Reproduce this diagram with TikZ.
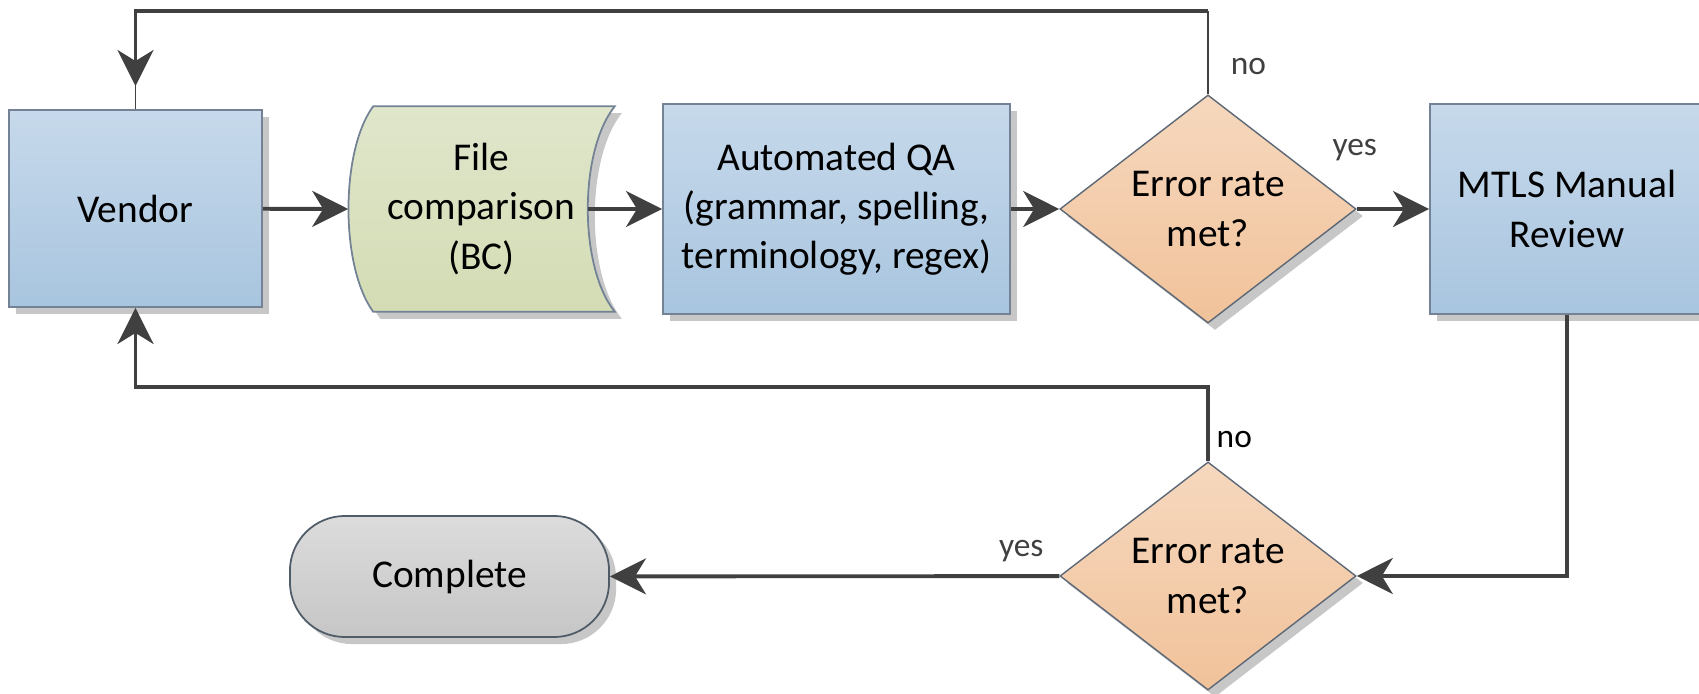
\documentclass[tikz,border=0pt]{standalone}
\usepackage{fontspec}
\setmainfont{Carlito}
\usetikzlibrary{arrows.meta,positioning,shapes.geometric,shadows,calc}
\definecolor{qaBlueTop}{RGB}{199,217,235}
\definecolor{qaBlueBot}{RGB}{168,197,223}
\definecolor{qaGreenTop}{RGB}{224,230,203}
\definecolor{qaGreenBot}{RGB}{211,220,180}
\definecolor{qaOrangeTop}{RGB}{246,216,190}
\definecolor{qaOrangeBot}{RGB}{241,194,154}
\definecolor{qaGrayTop}{RGB}{220,220,220}
\definecolor{qaGrayBot}{RGB}{198,198,198}
\definecolor{qaEdge}{RGB}{115,130,148}
\definecolor{qaLine}{RGB}{64,64,64}

\begin{document}
\begin{tikzpicture}[x=0.01cm, y=-0.01cm,
    shade/.style={drop shadow={shadow xshift=0.07cm, shadow yshift=-0.07cm,
                  opacity=0.22, fill=black}},
    proc/.style={rectangle, draw=qaEdge, line width=0.5pt, shade,
                 top color=qaBlueTop, bottom color=qaBlueBot,
                 minimum height=2.1cm, align=center,
                 font=\fontsize{11.2}{14}\selectfont},
    check/.style={diamond, draw=qaEdge!80!black, line width=0.4pt, shade,
                  top color=qaOrangeTop, bottom color=qaOrangeBot,
                  minimum width=2.96cm, minimum height=2.28cm, inner sep=0pt,
                  aspect=1.3, align=center, font=\fontsize{11.2}{14}\selectfont},
    term/.style={rectangle, rounded corners=0.55cm, draw=qaEdge!70!black,
                 line width=0.5pt, shade, top color=qaGrayTop, bottom color=qaGrayBot,
                 minimum width=3.19cm, minimum height=1.21cm,
                 font=\fontsize{11.2}{14}\selectfont},
    lbl/.style={font=\fontsize{9.5}{11}\selectfont, inner sep=0pt},
    arr/.style={-{Stealth[length=0.36cm, width=0.36cm, inset=0.11cm]}, qaLine, line width=1.1pt},
    thinln/.style={qaLine, line width=0.5pt}
  ]
  \useasboundingbox (0,0) rectangle (1699,694);

  \node[proc, minimum width=2.53cm, minimum height=1.97cm] (vendor) at (135.5,208.5) {Vendor};
  \node[minimum width=2.65cm, minimum height=2.04cm, inner sep=0pt] (fc) at (481.5,209) {};
  \node[proc, minimum width=3.47cm] (aqa) at (836.5,209)
    {Automated QA\\(grammar, spelling,\\terminology, regex)};
  \node[check] (chk1) at (1208,209) {Error rate\\met?};
  \node[proc, minimum width=2.74cm] (mtls) at (1567,209) {MTLS Manual\\Review};
  \node[check] (chk2) at (1208,576) {Error rate\\met?};
  \node[term] (done) at (449.5,576.5) {Complete};

  % file comparison shape (stored data)
  \draw[draw=qaEdge, line width=0.5pt, shade, top color=qaGreenTop, bottom color=qaGreenBot]
    ($(fc.north west)+(25,0)$) -- (fc.north east)
    .. controls ($(fc.north east)+(-36,45)$) and ($(fc.south east)+(-36,-45)$) .. (fc.south east)
    -- ($(fc.south west)+(25,0)$)
    .. controls ($(fc.south west)+(-8,-45)$) and ($(fc.north west)+(-8,45)$) .. cycle;
  \node[align=center, font=\fontsize{11.2}{14}\selectfont] at (fc) {File\\comparison\\(BC)};
  \coordinate (fcout) at ($(fc.east)+(-27,0)$);
  \coordinate (topy) at (0,11);
  \coordinate (midy) at (0,387);

  \draw[arr] (vendor) -- (fc.west);
  \draw[arr] (fcout) -- (aqa);
  \draw[arr] (aqa) -- (chk1);
  \draw[arr] (chk1) -- (mtls) node[lbl, pos=0.0, above=0.46cm, xshift=-0.02cm] {yes};
  \draw[arr] (mtls.south) |- (chk2.east);
  \draw[arr] (chk2) -- (done) node[lbl, pos=0.0, above=0.12cm, xshift=-0.38cm] {yes};

  % loops back to vendor
  \draw[thinln] (chk1.north) -- (chk1.north |- topy) node[lbl, pos=0.33, right=0.22cm] {no};
  \draw[arr, shorten >=0.23cm] (chk1.north |- topy) -| (vendor.north);
  \draw[thinln] (vendor.north) -- ++(0,-24);
  \draw[arr] (chk2.north) -- (chk2.north |- midy) -| (vendor.south);
  \node[lbl, anchor=west] at ($(chk2.north)+(8,-22)$) {no};
\end{tikzpicture}
\end{document}
